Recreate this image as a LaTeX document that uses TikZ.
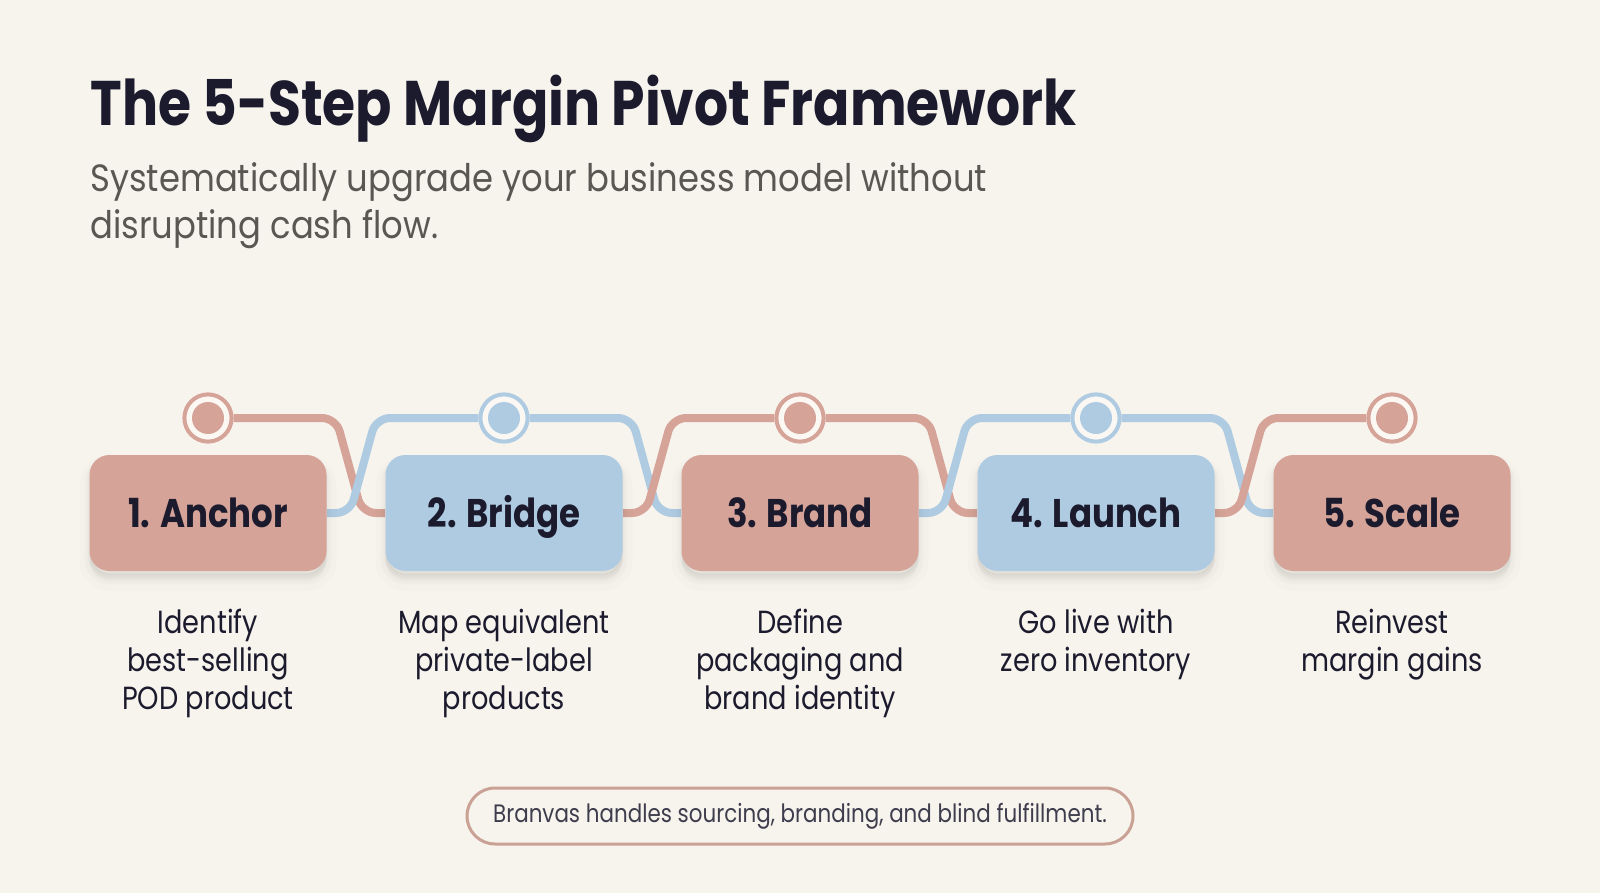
\documentclass[tikz,border=0pt]{standalone}
\usepackage{fontspec}
\setmainfont{Poppins}[FakeStretch=0.85]
\newfontfamily\subfont{Poppins}[FakeStretch=0.89]
\usetikzlibrary{positioning,calc}

\definecolor{cream}{HTML}{F7F3ED}
\definecolor{rose}{HTML}{D5A398}
\definecolor{sky}{HTML}{AECBE2}
\definecolor{ringfill}{HTML}{FBF8F4}
\definecolor{ink}{HTML}{1C1B2E}
\definecolor{subgray}{HTML}{5A5652}
\definecolor{pillline}{HTML}{C9A195}

\pgfdeclarelayer{backdrop}
\pgfdeclarelayer{edges}
\pgfsetlayers{backdrop,edges,main}

\begin{document}
\begin{tikzpicture}[x=0.5pt,y=-0.5pt]

\tikzstyle{softShadow} = [preaction={fill=black, fill opacity=0.02, transform canvas={yshift=-5pt}, draw=black, draw opacity=0.012, line width=10pt}, preaction={fill=black, fill opacity=0.025, transform canvas={yshift=-4pt}, draw=black, draw opacity=0.018, line width=5pt}, preaction={fill=black, fill opacity=0.02, transform canvas={yshift=-2pt}, draw=black, draw opacity=0.02, line width=2pt}]
\tikzstyle{stepBox} = [rounded corners=10pt, minimum width=118.5pt, minimum height=58pt, inner sep=0pt, text height=14.4pt, text depth=0pt, node distance=148pt, text=ink, font={\fontsize{20}{24}\selectfont\bfseries}, softShadow]
\tikzstyle{pinkBox} = [stepBox, fill=rose]
\tikzstyle{blueBox} = [stepBox, fill=sky]
\tikzstyle{ring} = [circle, draw, line width=2pt, fill=ringfill, minimum size=23.6pt, inner sep=0pt, node distance=47.5pt]
\tikzstyle{dot} = [circle, minimum size=16pt, inner sep=0pt]
\tikzstyle{stepText} = [align=center, inner sep=0pt, text=ink, font={\fontsize{16}{19}\selectfont}]
\tikzstyle{edgePortion} = [line width=4pt, rounded corners=7pt]
\tikzstyle{pinkEdge} = [edgePortion, draw=rose]
\tikzstyle{blueEdge} = [edgePortion, draw=sky]

\begin{pgfonlayer}{backdrop}
\fill[cream] (0,0) rectangle (1600,893);
\end{pgfonlayer}
\useasboundingbox (0,0) rectangle (1600,893);

% heading
\node[anchor=base west, inner sep=0pt, text=ink, font={\fontsize{31.5}{36}\selectfont\bfseries}, name=title] at (90,126) {The 5-Step Margin Pivot Framework};
\node[anchor=north west, inner sep=0pt, align=left, text=subgray, font={\subfont\fontsize{19}{23.5}\selectfont}, name=subtitle] at (90,162) {Systematically upgrade your business model without\\disrupting cash flow.};

% steps
\node[pinkBox, name=box1] at (208,513) {1. Anchor};
\node[blueBox, name=box2, right of=box1] {2. Bridge};
\node[pinkBox, name=box3, right of=box2] {3. Brand};
\node[blueBox, name=box4, right of=box3] {4. Launch};
\node[pinkBox, name=box5, right of=box4] {5. Scale};

\node[ring, draw=rose, name=ring1, above of=box1] {};
\node[ring, draw=sky, name=ring2, above of=box2] {};
\node[ring, draw=rose, name=ring3, above of=box3] {};
\node[ring, draw=sky, name=ring4, above of=box4] {};
\node[ring, draw=rose, name=ring5, above of=box5] {};
\node[dot, fill=rose, name=dot1] at (ring1) {};
\node[dot, fill=sky, name=dot2] at (ring2) {};
\node[dot, fill=rose, name=dot3] at (ring3) {};
\node[dot, fill=sky, name=dot4] at (ring4) {};
\node[dot, fill=rose, name=dot5] at (ring5) {};

\node[stepText, name=text1, below=18.5pt of box1] {Identify\\best-selling\\POD product};
\node[stepText, name=text2, below=18.5pt of box2] {Map equivalent\\private-label\\products};
\node[stepText, name=text3, below=18.5pt of box3] {Define\\packaging and\\brand identity};
\node[stepText, name=text4, below=18.5pt of box4] {Go live with\\zero inventory};
\node[stepText, name=text5, below=18.5pt of box5] {Reinvest\\margin gains};

% crossing links between the steps
\coordinate (gapA) at ($(box1.east)!0.5!(box2.west)$);
\coordinate (gapB) at ($(box2.east)!0.5!(box3.west)$);
\coordinate (gapC) at ($(box3.east)!0.5!(box4.west)$);
\coordinate (gapD) at ($(box4.east)!0.5!(box5.west)$);
\begin{pgfonlayer}{edges}
\draw[pinkEdge] (ring1.east) -- ($(gapA |- ring1)+(-20,0)$) -- ($(gapA)+(6,0)$) -- (box2.west);
\draw[blueEdge] (box1.east) -- ($(gapA)+(-6,0)$) -- ($(gapA |- ring2)+(20,0)$) -- (ring2.west);
\draw[blueEdge] (ring2.east) -- ($(gapB |- ring2)+(-20,0)$) -- ($(gapB)+(6,0)$) -- (box3.west);
\draw[pinkEdge] (box2.east) -- ($(gapB)+(-6,0)$) -- ($(gapB |- ring3)+(20,0)$) -- (ring3.west);
\draw[pinkEdge] (ring3.east) -- ($(gapC |- ring3)+(-20,0)$) -- ($(gapC)+(6,0)$) -- (box4.west);
\draw[blueEdge] (box3.east) -- ($(gapC)+(-6,0)$) -- ($(gapC |- ring4)+(20,0)$) -- (ring4.west);
\draw[blueEdge] (ring4.east) -- ($(gapD |- ring4)+(-20,0)$) -- ($(gapD)+(6,0)$) -- (box5.west);
\draw[pinkEdge] (box4.east) -- ($(gapD)+(-6,0)$) -- ($(gapD |- ring5)+(20,0)$) -- (ring5.west);
\end{pgfonlayer}

% footer note
\node[draw=pillline, line width=1.5pt, fill=cream, rounded corners=14pt, minimum width=333pt, minimum height=28pt, text=ink!85, font={\fontsize{12.6}{15}\selectfont}, name=note] at (800,816) {Branvas handles sourcing, branding, and blind fulfillment.};

\end{tikzpicture}
\end{document}
